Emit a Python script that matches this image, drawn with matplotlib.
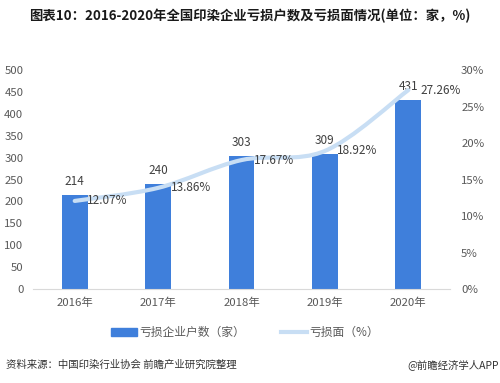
import numpy as np
import matplotlib
matplotlib.use("Agg")
import matplotlib.pyplot as plt
from matplotlib.path import Path
from matplotlib.patches import PathPatch
from matplotlib.lines import Line2D
from matplotlib.patches import Patch

plt.rcParams['font.family'] = ['Noto Sans CJK SC', 'DejaVu Sans']

years = ['2016年', '2017年', '2018年', '2019年', '2020年']
loss_count = [214, 240, 303, 309, 431]
loss_rate = [12.07, 13.86, 17.67, 18.92, 27.26]
left_ticks = [0, 50, 100, 150, 200, 250, 300, 350, 400, 450, 500]
right_ticks = [0, 5, 10, 15, 20, 25, 30]

BAR = '#3f7fdb'
LINE = '#c8def4'
GRAY = '#595959'

fig = plt.figure(figsize=(5, 3.83), dpi=100)
ax = fig.add_axes([0.066, 0.2454, 0.834, 0.5716])
ax2 = ax.twinx()

x = np.arange(len(years))
ax.bar(x, loss_count, width=0.31, color=BAR, zorder=2)
ax.set_xlim(-0.5, len(years) - 0.5)
ax.set_ylim(0, 500)
ax.set_yticks(left_ticks)
ax.set_xticks(x)
ax.set_xticklabels(years)
ax.tick_params(axis='both', length=0, labelsize=8.2, labelcolor=GRAY)
ax.tick_params(axis='y', pad=7)
ax.tick_params(axis='x', pad=6)
for s in ['top', 'right', 'left']:
    ax.spines[s].set_visible(False)
ax.spines['bottom'].set_color('#d9d9d9')

for xi, v in zip(x, loss_count):
    ax.annotate(str(v), (xi, v), xytext=(0, 5), textcoords='offset points',
                ha='center', va='bottom', fontsize=8.5, color='#404040')

# smooth line (cubic bezier through the points)
ax2.set_ylim(0, 30)
ax2.set_yticks(right_ticks)
ax2.set_yticklabels([f'{t}%' for t in right_ticks])
ax2.tick_params(axis='y', length=0, labelsize=8.2, labelcolor=GRAY, pad=8)
for s in ax2.spines.values():
    s.set_visible(False)

pts = np.column_stack([x, loss_rate]).astype(float)
verts = [pts[0]]
codes = [Path.MOVETO]
for i in range(len(pts) - 1):
    p0 = pts[max(i - 1, 0)]
    p1 = pts[i]
    p2 = pts[i + 1]
    p3 = pts[min(i + 2, len(pts) - 1)]
    c1 = p1 + (p2 - p0) / 6
    c2 = p2 - (p3 - p1) / 6
    verts += [c1, c2, p2]
    codes += [Path.CURVE4] * 3
ax2.add_patch(PathPatch(Path(verts, codes), fill=False, edgecolor=LINE,
                        lw=3, capstyle='round', zorder=3))

for xi, v in zip(x, loss_rate):
    ax2.annotate(f'{v:.2f}%', (xi, v), xytext=(9, 0), textcoords='offset points',
                 ha='left', va='center', fontsize=8.5, color='#404040')

fig.text(0.5, 0.958, '图表10：2016-2020年全国印染企业亏损户数及亏损面情况(单位：家，%)',
         ha='center', va='center', fontsize=9.6, fontweight='bold', color='#1a1a1a')

handles = [Patch(color=BAR), Line2D([], [], color=LINE, lw=3)]
fig.legend(handles, ['亏损企业户数（家）', '亏损面（%）'], loc='center',
           bbox_to_anchor=(0.49, 0.131), ncol=2, frameon=False, fontsize=8.5,
           labelcolor=GRAY, handlelength=2.2, handleheight=0.6, columnspacing=3,
           handletextpad=0.2)

fig.text(0.012, 0.047, '资料来源：中国印染行业协会 前瞻产业研究院整理', ha='left', va='center',
         fontsize=7.5, color='#333333')
fig.text(0.998, 0.047, '@前瞻经济学人APP', ha='right', va='center',
         fontsize=7.5, color='#333333')

fig.savefig('out.png', dpi=100)
